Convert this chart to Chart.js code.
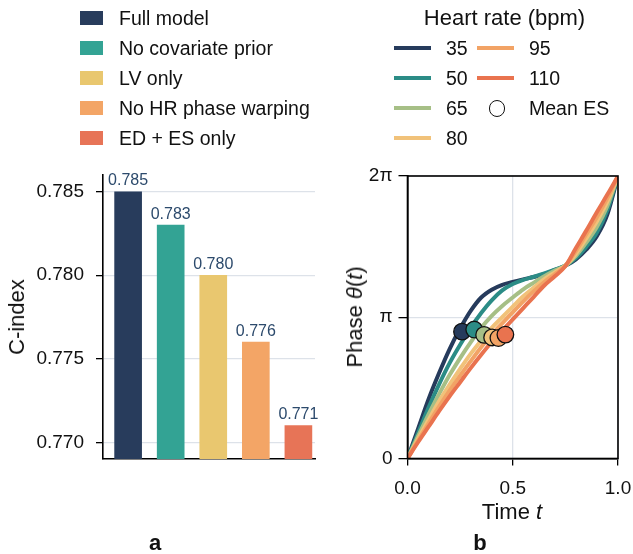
<!DOCTYPE html>
<html>
<head>
<meta charset="utf-8">
<script src="https://cdn.jsdelivr.net/npm/chart.js@4.4.1/dist/chart.umd.min.js"></script>
<style>
  body { margin: 0; background: #fff; }
  #wrap { position: relative; width: 633px; height: 554px; overflow: hidden; font-family: "Liberation Sans", Arial, sans-serif; color: #111; }
  canvas { position: absolute; top: 0; }
  .txt { position: absolute; white-space: nowrap; line-height: 22px; }
</style>
</head>
<body>
<div id="wrap">
  <canvas id="barChart" width="330" height="554" style="left:0"></canvas>
  <canvas id="phaseChart" width="303" height="554" style="left:330px"></canvas>
</div>
<script>
// panel a
const models = ['Full model', 'No covariate prior', 'LV only', 'No HR phase warping', 'ED + ES only'];
const cIndex = [0.785, 0.783, 0.780, 0.776, 0.771];
const modelColors = ['#283c5c', '#33a394', '#e9c76f', '#f3a566', '#e77457'];
const cTicks = [0.770, 0.775, 0.780, 0.785];

// panel b (phase in units of pi)
const timeT = [0, 0.05, 0.1, 0.15, 0.2, 0.25, 0.3, 0.35, 0.4, 0.45, 0.5, 0.55, 0.6, 0.65, 0.7, 0.75, 0.8, 0.85, 0.9, 0.95, 1];
const heartRates = [35, 50, 65, 80, 95, 110];
const phase35  = [0, 0.21, 0.42, 0.605, 0.775, 0.92, 1.045, 1.14, 1.195, 1.23, 1.25, 1.268, 1.285, 1.305, 1.335, 1.364, 1.41, 1.48, 1.575, 1.73, 2];
const phase50  = [0, 0.18, 0.36, 0.525, 0.675, 0.805, 0.925, 1.03, 1.12, 1.19, 1.235, 1.265, 1.287, 1.31, 1.338, 1.366, 1.42, 1.50, 1.60, 1.76, 2];
const phase65  = [0, 0.158, 0.313, 0.456, 0.591, 0.711, 0.822, 0.925, 1.01, 1.08, 1.14, 1.198, 1.245, 1.29, 1.33, 1.366, 1.435, 1.53, 1.64, 1.79, 2];
const phase80  = [0, 0.139, 0.274, 0.405, 0.524, 0.635, 0.741, 0.836, 0.925, 1.0, 1.075, 1.148, 1.21, 1.27, 1.318, 1.366, 1.45, 1.56, 1.68, 1.82, 2];
const phase95  = [0, 0.126, 0.248, 0.367, 0.48, 0.586, 0.689, 0.788, 0.877, 0.957, 1.035, 1.113, 1.185, 1.25, 1.305, 1.364, 1.47, 1.59, 1.71, 1.845, 2];
const phase110 = [0, 0.115, 0.225, 0.335, 0.44, 0.54, 0.64, 0.735, 0.825, 0.905, 0.985, 1.065, 1.145, 1.225, 1.29, 1.362, 1.49, 1.615, 1.745, 1.87, 2];
const hrColors = ['#263b5c', '#2b8c86', '#a6bf86', '#f1c27a', '#f2a365', '#e9734f'];
const esTime  = [0.259, 0.317, 0.364, 0.402, 0.432, 0.465];
const esPhase = [0.898, 0.913, 0.875, 0.857, 0.853, 0.877];
const phaseTicks = [0, 1, 2];
const phaseTickLabels = ['0', 'π', '2π'];
const timeTicks = [0, 0.5, 1];

const family = '"Liberation Sans", Arial, sans-serif';
const gridColor = '#dde2e9';
const phaseCurves = [phase35, phase50, phase65, phase80, phase95, phase110];

const wrap = document.getElementById('wrap');
function addText(html, left, top, css) {
  const d = document.createElement('div');
  d.className = 'txt';
  d.innerHTML = html;
  d.style.left = left + 'px';
  d.style.top = top + 'px';
  Object.assign(d.style, css || {});
  wrap.appendChild(d);
  return d;
}
function addBox(left, top, w, h, css) {
  const d = document.createElement('div');
  d.style.position = 'absolute';
  d.style.left = left + 'px';
  d.style.top = top + 'px';
  d.style.width = w + 'px';
  d.style.height = h + 'px';
  Object.assign(d.style, css);
  wrap.appendChild(d);
}

// legend a
models.forEach((m, i) => {
  const cy = 18.3 + 30 * i;
  addBox(80, cy - 7, 23, 14, { background: modelColors[i] });
  addText(m, 119, cy - 11, { fontSize: '19.5px' });
});

// legend b
addText('Heart rate (bpm)', 504.5, 18.3 - 11, { fontSize: '22px', transform: 'translateX(-50%)' });
const legCols = [[0, 1, 2, 3], [4, 5]];
legCols.forEach((col, c) => {
  const lx = c === 0 ? 394 : 477;
  const tx = c === 0 ? 446 : 529;
  col.forEach((k, r) => {
    const cy = 48.3 + 30 * r;
    addBox(lx, cy - 2, 37, 4, { background: hrColors[k] });
    addText(String(heartRates[k]), tx, cy - 11, { fontSize: '19.5px' });
  });
});
addBox(488.5, 108.3 - 8, 16.5, 16.5, { border: '1.5px solid #111', borderRadius: '50%', boxSizing: 'border-box', background: '#fff' });
addText('Mean ES', 529, 108.3 - 11, { fontSize: '19.5px' });

// axis titles and panel letters
addText('C-index', 17, 317 - 11, { fontSize: '22px', transform: 'translateX(-50%) rotate(-90deg)', transformOrigin: '50% 50%' });
addText('Phase <i>θ</i>(<i>t</i>)', 355, 317 - 11, { fontSize: '22px', transform: 'translateX(-50%) rotate(-90deg)', transformOrigin: '50% 50%' });
addText('Time <i>t</i>', 512, 512 - 11, { fontSize: '22px', transform: 'translateX(-50%)' });
addText('a', 155, 543 - 11, { fontSize: '22px', fontWeight: 'bold', transform: 'translateX(-50%)' });
addText('b', 480, 543 - 11, { fontSize: '22px', fontWeight: 'bold', transform: 'translateX(-50%)' });

const valueLabels = {
  id: 'valueLabels',
  afterDatasetsDraw(chart) {
    const ctx = chart.ctx;
    ctx.save();
    ctx.font = '16px ' + family;
    ctx.fillStyle = '#2c4a6c';
    ctx.textAlign = 'center';
    ctx.textBaseline = 'alphabetic';
    chart.getDatasetMeta(0).data.forEach((bar, i) => {
      ctx.fillText(cIndex[i].toFixed(3), bar.x, bar.y - 6.5);
    });
    ctx.restore();
  }
};

const frame = {
  id: 'frame',
  afterDraw(chart) {
    const a = chart.chartArea;
    const ctx = chart.ctx;
    ctx.save();
    ctx.strokeStyle = '#000';
    ctx.lineWidth = 1.6;
    ctx.strokeRect(a.left, a.top, a.right - a.left, a.bottom - a.top);
    ctx.restore();
  }
};

// keep chart area where the reference has it
const fixX = h => s => { s.height = h; s.paddingLeft = 0; s.paddingRight = 0; };
const fixY = w => s => { s.width = w; s.paddingTop = 0; s.paddingBottom = 0; };

new Chart(document.getElementById('barChart'), {
  type: 'bar',
  data: {
    datasets: [{
      data: cIndex.map((v, i) => ({ x: i, y: v })),
      backgroundColor: modelColors,
      barThickness: 27
    }]
  },
  options: {
    responsive: false,
    animation: false,
    layout: { padding: { left: 0, right: 15, top: 175, bottom: 0 } },
    plugins: { legend: { display: false }, tooltip: { enabled: false } },
    scales: {
      x: {
        type: 'linear', min: -0.59, max: 4.39, offset: false,
        grid: { display: false },
        ticks: { display: false },
        border: { color: '#000', width: 1.6 },
        afterFit: fixX(95)
      },
      y: {
        min: 0.769, max: 0.786,
        afterBuildTicks: s => { s.ticks = cTicks.map(v => ({ value: v })); },
        ticks: { callback: v => v.toFixed(3), font: { size: 19, family }, color: '#111', padding: 12 },
        grid: { color: gridColor, lineWidth: 1.3, tickColor: '#000', tickLength: 7, tickWidth: 1.3 },
        border: { color: '#000', width: 1.6 },
        afterFit: fixY(103)
      }
    }
  },
  plugins: [valueLabels]
});

const curveSets = heartRates.map((hr, i) => ({
  label: String(hr),
  data: timeT.map((t, j) => ({ x: t, y: phaseCurves[i][j] })),
  borderColor: hrColors[i],
  borderWidth: 4,
  pointRadius: 0,
  cubicInterpolationMode: 'monotone',
  fill: false,
  order: 10 - i
}));

new Chart(document.getElementById('phaseChart'), {
  type: 'line',
  data: {
    datasets: curveSets.concat([{
      label: 'Mean ES',
      data: esTime.map((t, i) => ({ x: t, y: esPhase[i] })),
      showLine: false,
      pointRadius: 8.3,
      pointBackgroundColor: hrColors,
      pointBorderColor: '#111',
      pointBorderWidth: 1.3,
      order: 0
    }])
  },
  options: {
    responsive: false,
    animation: false,
    layout: { padding: { left: 0, right: 15, top: 176, bottom: 0 } },
    plugins: { legend: { display: false }, tooltip: { enabled: false } },
    scales: {
      x: {
        type: 'linear', min: 0, max: 1,
        afterBuildTicks: s => { s.ticks = timeTicks.map(v => ({ value: v })); },
        ticks: { callback: v => v.toFixed(1), font: { size: 19, family }, color: '#111', padding: 12, maxRotation: 0 },
        grid: { color: gridColor, lineWidth: 1.3, tickColor: '#000', tickLength: 7, tickWidth: 1.3 },
        border: { color: '#000', width: 1.6 },
        afterFit: fixX(95.5)
      },
      y: {
        min: 0, max: 2,
        afterBuildTicks: s => { s.ticks = phaseTicks.map(v => ({ value: v })); },
        ticks: { callback: v => phaseTickLabels[phaseTicks.indexOf(v)], font: { size: 19, family }, color: '#111', padding: 6 },
        grid: { color: gridColor, lineWidth: 1.3, tickColor: '#000', tickLength: 9, tickWidth: 1.3 },
        border: { color: '#000', width: 1.6 },
        afterFit: fixY(77.5)
      }
    }
  },
  plugins: [frame]
});
</script>
</body>
</html>
